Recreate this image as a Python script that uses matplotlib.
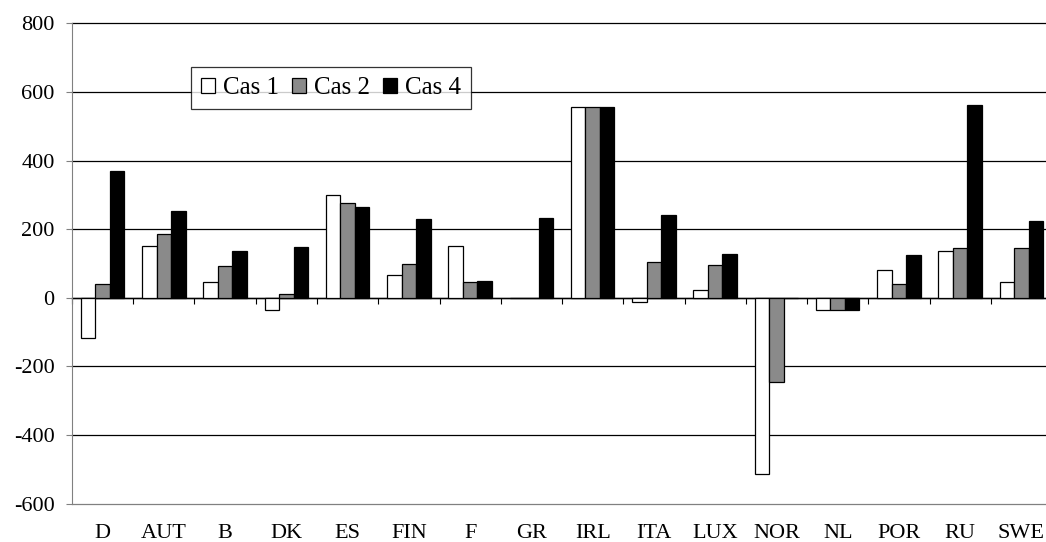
import numpy as np
import matplotlib
matplotlib.use("Agg")
import matplotlib.pyplot as plt
from matplotlib.patches import Patch

plt.rcParams["font.family"] = ["Liberation Serif", "DejaVu Serif"]
plt.rcParams["axes.unicode_minus"] = False

# -----------------------
# Data
# -----------------------
countries = ["D", "AUT", "B", "DK", "ES", "FIN", "F", "GR",
             "IRL", "ITA", "LUX", "NOR", "NL", "POR", "RU", "SWE"]
cas1 = [-117, 151, 46, -37, 299, 65, 151, 0, 555, -13, 23, -514, -37, 82, 135, 46]
cas2 = [41, 187, 92, 12, 276, 99, 46, 0, 555, 104, 94, -246, -37, 41, 146, 146]
cas4 = [370, 253, 136, 148, 265, 230, 48, 231, 557, 240, 128, 0, -37, 124, 561, 224]
series_names = ["Cas 1", "Cas 2", "Cas 4"]
yticks = [-600, -400, -200, 0, 200, 400, 600, 800]

colors = ["white", "#8a8a8a", "black"]

fig = plt.figure(figsize=(10.46, 5.42), dpi=100)
# plot area runs slightly past the right edge, like the original
ax = fig.add_axes([0.0688, 0.071, 0.937, 0.886])

x = np.arange(len(countries))
w = 0.236
for k, (vals, c) in enumerate(zip([cas1, cas2, cas4], colors)):
    ax.bar(x + (k - 1) * w, vals, width=w, color=c, edgecolor="black",
           linewidth=0.9, zorder=3)

ax.set_xlim(-0.5, len(countries) - 0.5)
ax.set_ylim(-600, 800)
ax.set_yticks(yticks)
ax.yaxis.grid(True, color="black", linewidth=0.9)
ax.set_axisbelow(True)
for gl in ax.yaxis.get_gridlines():
    gl.set_clip_on(False)
# bottom gridline is the grey plot-area border in the original
ax.yaxis.get_gridlines()[0].set_color("#808080")

for s in ["top", "right", "bottom"]:
    ax.spines[s].set_visible(False)
ax.spines["left"].set_color("#808080")
ax.tick_params(axis="y", direction="out", length=4.5, width=0.8,
               color="#808080", labelsize=16, pad=8)

ax.set_xticks(x)
ax.set_xticklabels(countries)
ax.tick_params(axis="x", length=0, labelsize=16, pad=15)

# category axis crossing at zero, with ticks between the groups
zero_frac = (0 - yticks[0]) / (yticks[-1] - yticks[0])
sec = ax.secondary_xaxis(zero_frac)
sec.set_xticks(np.arange(-0.5, len(countries), 1.0))
sec.tick_params(direction="out", length=4.5, width=0.8, labelbottom=False,
                labeltop=False)
sec.spines["bottom"].set_color("black")
sec.spines["bottom"].set_linewidth(1.0)

handles = [Patch(facecolor=c, edgecolor="black", linewidth=0.9) for c in colors]
leg = ax.legend(handles, series_names, loc="upper left",
                bbox_to_anchor=(0.1216, 0.909), ncol=3, fontsize=18,
                frameon=True, fancybox=False, handlelength=0.56,
                handleheight=0.56, handletextpad=0.32, columnspacing=0.52,
                borderpad=0.4, borderaxespad=0)
leg.get_frame().set_edgecolor("black")
leg.get_frame().set_linewidth(0.9)
leg.set_zorder(5)

plt.savefig("out.png", dpi=100)
